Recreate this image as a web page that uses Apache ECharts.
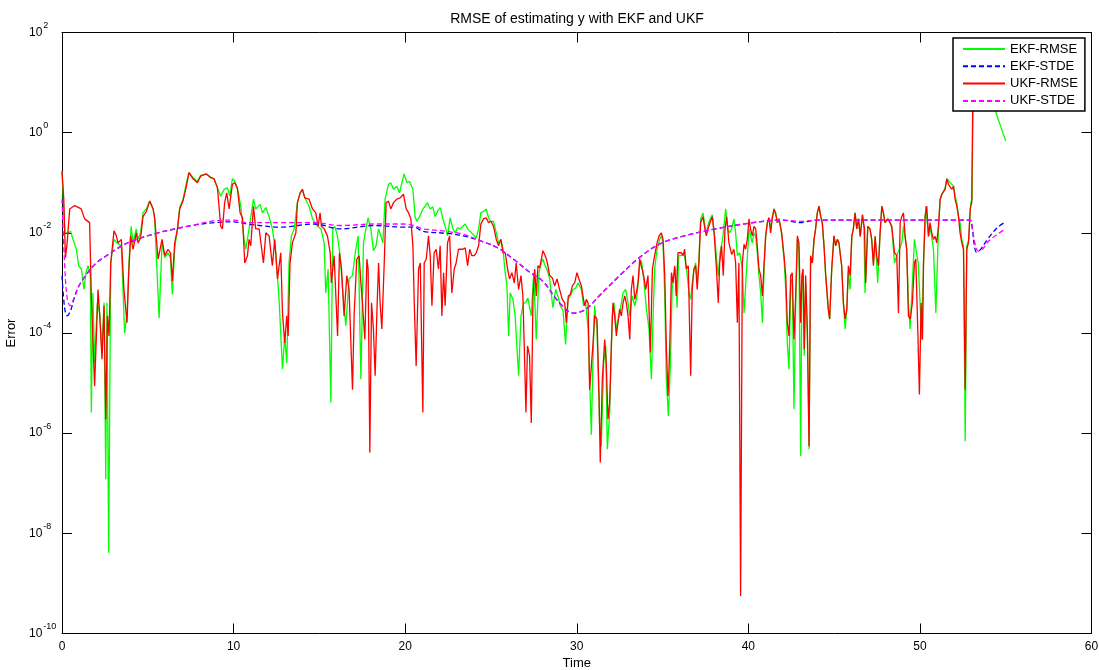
<!DOCTYPE html>
<html><head><meta charset="utf-8">
<script src="https://cdn.jsdelivr.net/npm/echarts@6/dist/echarts.min.js"></script>
<style>html,body{margin:0;padding:0;background:#fff}#chart{width:1099px;height:670px}</style>
</head><body><div id="chart"></div>
<script>
const seriesNames = ['EKF-RMSE', 'EKF-STDE', 'UKF-RMSE', 'UKF-STDE'];
const titleText = 'RMSE of estimating y with EKF and UKF';
const xName = 'Time';
const yName = 'Error';
const xMin = 0, xMax = 60, xStep = 10;
const yMin = 1e-10, yMax = 1e2, yStepDecades = 2;

const ekfRmse = [[0,1.7e-1],[0.1,3.2e-2],[0.17,1.0e-2],[0.35,1.0e-2],[0.5,1.07e-2],[0.64,7.4e-3],[0.84,4.7e-3],[0.97,2.2e-3],[1.13,1.9e-3],[1.28,7.4e-4],[1.4,1.6e-3],[1.52,2.2e-3],[1.65,1.4e-3],[1.71,2.6e-6],[1.8,6.3e-4],[1.9,2.5e-5],[2.06,4.0e-4],[2.2,2.5e-4],[2.33,4.0e-5],[2.45,4.0e-4],[2.55,1.2e-7],[2.62,4.0e-4],[2.72,4.1e-9],[2.84,2.5e-3],[3.03,7.4e-3],[3.2,6.3e-3],[3.46,5.5e-3],[3.65,1.0e-4],[3.79,2.5e-4],[3.9,2.5e-3],[4.03,1.35e-2],[4.14,6.3e-3],[4.33,1.2e-2],[4.43,7.4e-3],[4.58,1.0e-2],[4.72,2.5e-2],[4.92,3.0e-2],[5.11,4.3e-2],[5.31,3.0e-2],[5.4,1.9e-2],[5.66,2.0e-4],[5.83,6.3e-3],[5.99,3.2e-3],[6.18,4.0e-3],[6.32,3.2e-3],[6.43,5.9e-4],[6.57,5.0e-3],[6.73,1.2e-2],[6.86,3.2e-2],[7.05,4.7e-2],[7.25,1.0e-1],[7.4,1.6e-1],[7.64,1.26e-1],[7.89,1.07e-1],[8.08,1.4e-1],[8.41,1.5e-1],[8.67,1.3e-1],[8.86,1.2e-1],[9.06,7.9e-2],[9.25,5.4e-2],[9.45,7.4e-2],[9.64,7.9e-2],[9.78,5.4e-2],[9.93,1.2e-1],[10.07,1.07e-1],[10.26,6.8e-2],[10.42,3.4e-2],[10.61,7.4e-3],[10.71,4.7e-3],[10.9,1.2e-2],[11.16,4.7e-2],[11.29,3.0e-2],[11.55,3.7e-2],[11.68,2.5e-2],[11.88,3.2e-2],[12.07,2.1e-2],[12.26,1.2e-2],[12.46,4.0e-3],[12.65,4.7e-4],[12.85,1.9e-5],[12.98,8.7e-5],[13.1,2.5e-5],[13.23,2.5e-3],[13.37,8.7e-3],[13.53,1.2e-2],[13.72,4.0e-2],[13.88,6.3e-2],[14.01,7.4e-2],[14.15,5.0e-2],[14.4,3.4e-2],[14.6,1.9e-2],[14.89,1.35e-2],[15.09,1.2e-2],[15.28,6.3e-3],[15.37,6.3e-4],[15.51,1.9e-3],[15.67,4.1e-6],[15.78,1.2e-2],[15.9,1.35e-2],[16.05,8.7e-3],[16.21,3.5e-3],[16.35,7.4e-4],[16.54,1.4e-4],[16.73,1.2e-3],[16.93,1.4e-3],[17.12,4.7e-3],[17.26,8.7e-3],[17.42,1.2e-5],[17.57,6.3e-3],[17.71,1.2e-2],[17.84,2.0e-2],[18.0,1.2e-2],[18.15,4.4e-3],[18.3,5.5e-3],[18.45,1.2e-2],[18.58,8.7e-3],[18.7,6.3e-3],[18.83,4.7e-2],[19.03,9.3e-2],[19.16,1.0e-1],[19.32,7.4e-2],[19.51,8.5e-2],[19.67,6.3e-2],[19.81,1.0e-1],[19.94,1.5e-1],[20.1,1.0e-1],[20.25,1.07e-1],[20.45,7.4e-2],[20.58,2.1e-2],[20.68,1.7e-2],[20.84,2.1e-2],[21.03,3.0e-2],[21.17,3.4e-2],[21.3,4.0e-2],[21.46,3.0e-2],[21.61,3.3e-2],[21.75,2.1e-2],[21.89,2.7e-2],[22.04,3.2e-2],[22.2,1.9e-2],[22.33,1.35e-2],[22.47,8.7e-3],[22.62,2.0e-2],[22.78,1.2e-2],[22.92,1.0e-2],[23.05,1.26e-2],[23.2,1.2e-2],[23.36,1.35e-2],[23.5,1.5e-2],[23.64,1.2e-2],[23.79,1.07e-2],[23.95,9.3e-3],[24.14,7.9e-3],[24.28,1.2e-2],[24.41,2.5e-2],[24.57,2.7e-2],[24.72,3.0e-2],[24.86,2.0e-2],[24.96,1.7e-2],[25.15,1.7e-2],[25.31,1.0e-2],[25.44,6.3e-3],[25.58,7.4e-3],[25.7,4.7e-3],[25.83,1.6e-3],[25.93,8.7e-4],[26.03,8.7e-5],[26.12,6.3e-4],[26.28,4.7e-4],[26.41,2.2e-4],[26.51,5.5e-5],[26.61,1.4e-5],[26.75,2.2e-4],[26.9,4.0e-4],[27.02,4.0e-4],[27.15,5.0e-4],[27.35,2.2e-4],[27.49,1.6e-3],[27.64,7.4e-5],[27.8,1.6e-3],[27.93,2.5e-3],[28.03,3.0e-3],[28.13,2.3e-3],[28.26,1.9e-3],[28.42,1.2e-3],[28.61,3.2e-4],[28.77,7.4e-4],[28.9,5.5e-4],[29.04,3.5e-4],[29.2,2.8e-4],[29.35,5.9e-5],[29.49,4.7e-4],[29.63,5.5e-4],[29.78,7.4e-4],[29.94,7.9e-4],[30.07,1.0e-3],[30.27,7.4e-4],[30.4,3.5e-4],[30.52,4.0e-4],[30.66,1.2e-4],[30.85,9.3e-7],[30.95,3.5e-5],[31.04,3.5e-4],[31.18,1.2e-4],[31.34,1.2e-6],[31.43,5.5e-7],[31.57,2.5e-5],[31.69,5.5e-5],[31.78,4.8e-7],[31.92,2.6e-6],[32.07,2.2e-4],[32.17,4.0e-4],[32.31,1.2e-4],[32.5,2.5e-4],[32.7,6.3e-4],[32.85,7.4e-4],[32.99,4.0e-4],[33.09,2.2e-4],[33.24,5.5e-4],[33.38,3.5e-4],[33.51,5.5e-4],[33.67,2.2e-3],[33.77,2.8e-3],[33.9,1.2e-3],[34.06,3.0e-4],[34.21,1.2e-4],[34.35,1.2e-5],[34.45,2.2e-4],[34.54,1.9e-3],[34.68,4.7e-3],[34.83,7.4e-3],[34.93,8.7e-3],[35.03,6.3e-3],[35.13,5.5e-4],[35.22,1.2e-5],[35.34,2.2e-6],[35.46,2.5e-5],[35.56,7.4e-4],[35.65,1.4e-3],[35.75,1.9e-3],[35.85,3.2e-4],[35.94,3.5e-3],[36.1,3.5e-3],[36.24,4.0e-3],[36.38,2.2e-3],[36.54,6.3e-4],[36.64,4.7e-4],[36.73,1.0e-3],[36.83,1.9e-3],[36.93,2.5e-3],[37.02,1.0e-3],[37.12,3.0e-3],[37.22,1.9e-2],[37.36,2.5e-2],[37.47,1.35e-2],[37.55,1.0e-2],[37.67,1.5e-2],[37.8,2.0e-2],[37.9,2.3e-2],[38.02,1.0e-2],[38.13,3.5e-3],[38.25,1.4e-3],[38.35,4.0e-3],[38.5,7.4e-3],[38.6,1.6e-2],[38.68,3.0e-2],[38.8,1.2e-2],[38.9,1.0e-2],[39.03,1.2e-2],[39.16,1.9e-2],[39.26,1.0e-2],[39.36,3.5e-3],[39.5,4.0e-3],[39.65,1.9e-3],[39.75,2.5e-4],[39.9,1.9e-3],[40.04,1.2e-2],[40.13,1.2e-2],[40.23,6.3e-3],[40.33,1.0e-2],[40.43,8.7e-3],[40.52,4.0e-3],[40.62,1.4e-3],[40.72,6.3e-4],[40.82,1.6e-4],[40.92,1.9e-3],[41.01,8.7e-3],[41.11,1.6e-2],[41.2,2.0e-2],[41.3,1.2e-2],[41.4,2.1e-2],[41.5,3.0e-2],[41.6,2.5e-2],[41.69,1.6e-2],[41.79,1.9e-2],[41.94,1.0e-2],[42.08,3.0e-3],[42.18,7.4e-4],[42.27,6.3e-5],[42.37,1.9e-5],[42.47,1.0e-3],[42.56,1.2e-3],[42.66,3.0e-6],[42.76,4.0e-4],[42.86,7.4e-3],[42.95,4.7e-3],[43.05,3.5e-7],[43.12,1.0e-3],[43.19,1.4e-3],[43.26,3.5e-5],[43.34,1.0e-3],[43.44,8.7e-5],[43.54,4.8e-7],[43.63,3.0e-3],[43.73,2.5e-3],[43.83,7.4e-3],[43.92,1.2e-2],[44.02,2.5e-2],[44.12,3.4e-2],[44.22,2.1e-2],[44.31,1.6e-2],[44.41,5.5e-3],[44.51,1.4e-3],[44.66,3.0e-4],[44.74,1.9e-4],[44.86,1.9e-3],[44.99,8.7e-3],[45.09,5.5e-3],[45.19,7.4e-3],[45.28,6.3e-3],[45.44,2.2e-3],[45.54,4.0e-4],[45.64,1.2e-4],[45.74,3.0e-4],[45.83,1.6e-3],[45.93,7.4e-4],[46.03,8.5e-3],[46.12,1.2e-2],[46.22,2.5e-2],[46.32,1.2e-2],[46.42,1.9e-2],[46.52,8.5e-3],[46.65,2.3e-2],[46.74,1.2e-2],[46.8,6.3e-4],[46.96,1.35e-2],[47.09,1.2e-2],[47.19,7.4e-3],[47.29,2.5e-3],[47.39,8.5e-3],[47.54,1.0e-3],[47.68,1.0e-2],[47.78,3.4e-2],[47.87,2.5e-2],[47.97,1.6e-2],[48.13,1.9e-2],[48.26,1.6e-2],[48.36,1.26e-2],[48.52,2.5e-3],[48.65,3.5e-3],[48.75,3.2e-3],[48.94,6.3e-3],[49.04,1.35e-2],[49.14,7.9e-3],[49.23,4.7e-3],[49.33,4.0e-4],[49.43,1.2e-4],[49.56,1.0e-3],[49.68,7.4e-3],[49.8,4.0e-3],[49.9,2.5e-3],[50.11,7.4e-5],[50.21,2.5e-3],[50.34,3.4e-2],[50.5,8.5e-3],[50.59,1.35e-2],[50.79,4.7e-3],[50.93,2.5e-4],[51.08,1.2e-2],[51.18,4.7e-2],[51.28,5.9e-2],[51.37,6.3e-2],[51.47,7.9e-2],[51.57,1.2e-1],[51.66,1.26e-1],[51.76,1.0e-1],[51.86,1.07e-1],[51.96,8.5e-2],[52.05,5.4e-2],[52.15,4.0e-2],[52.25,2.1e-2],[52.34,1.6e-2],[52.44,7.4e-3],[52.54,5.4e-3],[52.64,6.9e-7],[52.73,5.4e-3],[52.85,7.4e-3],[52.96,4.0e-2],[53.04,4.7e-2],[53.12,40],[53.6,12.6],[54.0,6.3],[54.4,2.7],[54.7,1.35],[55.0,0.68]];

const ekfStde = [[0,1.4e-3],[0.15,3.2e-4],[0.3,2.2e-4],[0.5,2.8e-4],[0.75,5.5e-4],[1.0,8.9e-4],[1.5,1.6e-3],[2.0,2.5e-3],[2.7,3.7e-3],[3.65,5.9e-3],[4.6,7.9e-3],[5.6,1.0e-2],[6.6,1.2e-2],[7.55,1.4e-2],[8.9,1.6e-2],[10,1.66e-2],[10.8,1.5e-2],[12.75,1.3e-2],[14.7,1.5e-2],[16.25,1.2e-2],[18.2,1.4e-2],[19.9,1.3e-2],[20.5,1.3e-2],[21.05,1.07e-2],[22.4,9.8e-3],[23.4,8.7e-3],[24.4,6.9e-3],[25.35,5.1e-3],[26.3,3.0e-3],[27.3,1.6e-3],[28.0,1.1e-3],[29.0,4.0e-4],[29.8,2.5e-4],[30.55,3.0e-4],[31.3,5.5e-4],[32.5,1.4e-3],[33.65,3.2e-3],[34.8,5.9e-3],[36.15,8.5e-3],[38.1,1.2e-2],[40.0,1.55e-2],[42.0,1.8e-2],[43.0,1.6e-2],[44.0,1.8e-2],[46,1.8e-2],[48,1.8e-2],[50,1.8e-2],[52.9,1.8e-2],[53.05,1.26e-2],[53.15,6.3e-3],[53.3,4.1e-3],[53.5,4.5e-3],[54.0,7.9e-3],[54.5,1.26e-2],[55.0,1.66e-2]];

const ukfRmse = [[0,1.7e-1],[0.1,5.0e-2],[0.2,3.2e-3],[0.3,6.3e-3],[0.45,3.0e-2],[0.74,3.5e-2],[1.12,3.0e-2],[1.32,1.9e-2],[1.61,1.6e-2],[1.71,5.5e-4],[1.9,8.7e-6],[2.1,7.4e-4],[2.2,2.2e-4],[2.33,3.0e-5],[2.45,3.5e-4],[2.55,1.9e-6],[2.65,2.2e-4],[2.74,8.7e-5],[2.84,2.5e-3],[3.03,1.1e-2],[3.17,8.7e-3],[3.26,6.3e-3],[3.46,7.4e-3],[3.61,7.4e-4],[3.79,1.6e-4],[3.89,1.6e-3],[4.0,8.7e-3],[4.14,4.7e-3],[4.33,1.0e-2],[4.43,6.3e-3],[4.58,7.9e-3],[4.72,2.1e-2],[4.92,2.7e-2],[5.11,4.3e-2],[5.31,3.0e-2],[5.4,2.0e-2],[5.6,3.0e-3],[5.83,7.4e-3],[5.99,3.5e-3],[6.18,4.7e-3],[6.32,4.0e-3],[6.43,1.1e-3],[6.57,6.3e-3],[6.73,1.2e-2],[6.86,3.0e-2],[7.05,4.3e-2],[7.25,8.5e-2],[7.4,1.6e-1],[7.64,1.2e-1],[7.89,1.0e-1],[8.08,1.35e-1],[8.41,1.5e-1],[8.67,1.26e-1],[8.86,1.2e-1],[9.06,7.9e-2],[9.25,1.35e-2],[9.35,1.2e-2],[9.48,4.0e-2],[9.6,6.3e-2],[9.74,3.0e-2],[9.93,9.3e-2],[10.07,1.0e-1],[10.22,7.9e-2],[10.38,2.5e-2],[10.52,2.0e-2],[10.65,2.5e-3],[10.81,3.5e-3],[10.9,7.4e-3],[11.0,5.5e-3],[11.16,3.4e-2],[11.29,1.2e-2],[11.49,1.2e-2],[11.74,2.5e-3],[11.88,1.0e-2],[12.07,8.7e-3],[12.26,2.2e-3],[12.4,7.4e-3],[12.56,1.2e-3],[12.75,4.0e-3],[12.85,2.5e-4],[12.98,6.3e-5],[13.1,2.2e-4],[13.18,8.7e-5],[13.29,2.5e-3],[13.43,6.3e-3],[13.63,1.0e-2],[13.72,4.0e-2],[13.88,6.3e-2],[14.01,7.4e-2],[14.15,5.0e-2],[14.4,4.7e-2],[14.6,3.0e-2],[14.79,2.5e-2],[14.93,1.35e-2],[15.04,2.5e-2],[15.12,1.35e-2],[15.28,1.2e-2],[15.47,8.7e-3],[15.63,4.0e-3],[15.7,1.0e-3],[15.86,3.5e-3],[16.06,8.7e-5],[16.17,4.0e-3],[16.29,1.9e-3],[16.44,2.2e-4],[16.6,1.4e-3],[16.73,7.4e-4],[16.93,7.4e-6],[17.03,2.5e-4],[17.18,3.0e-3],[17.32,3.5e-3],[17.42,1.0e-3],[17.52,3.5e-4],[17.65,7.4e-5],[17.77,3.0e-3],[17.84,1.9e-3],[17.94,4.1e-7],[18.04,4.0e-4],[18.15,1.2e-4],[18.25,1.4e-5],[18.35,2.5e-4],[18.45,2.5e-3],[18.54,4.0e-4],[18.64,1.2e-4],[18.78,2.5e-3],[18.89,4.0e-2],[19.03,4.3e-2],[19.16,3.0e-2],[19.32,4.0e-2],[19.51,4.7e-2],[19.71,5.0e-2],[19.9,5.9e-2],[20.06,3.0e-2],[20.2,2.5e-2],[20.33,1.9e-2],[20.45,5.5e-3],[20.53,4.0e-4],[20.64,2.2e-5],[20.78,1.9e-3],[20.88,2.5e-3],[21.03,2.6e-6],[21.11,2.5e-3],[21.23,3.0e-3],[21.36,8.7e-3],[21.46,3.5e-3],[21.56,3.5e-4],[21.69,4.0e-3],[21.81,4.7e-3],[21.94,1.9e-3],[22.04,5.5e-3],[22.14,2.2e-4],[22.24,1.6e-3],[22.33,3.5e-4],[22.47,6.3e-3],[22.59,8.7e-3],[22.72,6.3e-4],[22.86,1.9e-3],[22.97,2.5e-3],[23.11,4.7e-3],[23.22,5.0e-3],[23.36,4.7e-3],[23.5,5.0e-3],[23.64,2.2e-3],[23.76,4.7e-3],[23.89,3.5e-3],[24.03,3.5e-3],[24.14,4.0e-3],[24.28,5.5e-3],[24.41,1.5e-2],[24.57,1.9e-2],[24.72,2.0e-2],[24.86,1.6e-2],[25.0,1.7e-2],[25.15,1.35e-2],[25.31,7.4e-3],[25.44,5.5e-3],[25.58,7.4e-3],[25.7,4.0e-3],[25.83,4.0e-3],[25.97,1.9e-3],[26.08,1.2e-3],[26.22,1.6e-3],[26.36,1.0e-3],[26.47,2.5e-3],[26.61,7.4e-4],[26.75,1.4e-3],[26.86,5.5e-4],[26.94,5.5e-5],[27.04,2.6e-6],[27.13,5.5e-5],[27.25,3.5e-5],[27.35,1.6e-6],[27.45,5.5e-4],[27.55,1.9e-3],[27.64,5.5e-4],[27.74,2.2e-3],[27.84,2.0e-3],[28.03,4.4e-3],[28.13,3.7e-3],[28.23,3.0e-3],[28.32,2.2e-3],[28.42,1.4e-3],[28.58,1.26e-3],[28.71,8.7e-4],[28.85,1.2e-3],[29.0,7.4e-4],[29.16,4.7e-4],[29.3,4.0e-4],[29.39,1.6e-4],[29.51,5.5e-4],[29.63,5.9e-4],[29.74,8.7e-4],[29.88,1.0e-3],[30.01,1.6e-3],[30.13,1.2e-3],[30.27,8.7e-4],[30.36,5.5e-4],[30.46,3.5e-4],[30.56,4.7e-4],[30.66,4.0e-4],[30.75,7.4e-6],[30.85,7.4e-6],[30.95,6.3e-5],[31.04,2.2e-4],[31.18,1.9e-4],[31.3,5.5e-6],[31.37,2.6e-7],[31.49,1.2e-5],[31.63,7.4e-5],[31.72,2.5e-5],[31.82,1.9e-6],[31.92,4.1e-6],[32.02,6.3e-5],[32.11,4.0e-4],[32.21,2.2e-4],[32.31,8.7e-5],[32.4,1.6e-4],[32.5,3.0e-4],[32.6,2.2e-4],[32.7,4.0e-4],[32.8,5.5e-4],[32.89,4.0e-4],[32.99,2.2e-4],[33.09,7.4e-5],[33.18,7.4e-4],[33.28,1.4e-3],[33.38,4.7e-4],[33.47,6.3e-4],[33.57,1.0e-3],[33.67,3.0e-3],[33.77,3.2e-3],[33.9,1.4e-3],[34.02,7.4e-4],[34.15,1.4e-3],[34.29,4.1e-5],[34.41,1.9e-3],[34.54,3.5e-3],[34.68,6.3e-3],[34.8,8.7e-3],[34.93,1.0e-2],[35.03,7.4e-3],[35.13,1.4e-3],[35.22,5.5e-5],[35.32,5.5e-6],[35.42,5.5e-5],[35.52,1.6e-3],[35.61,1.0e-3],[35.71,2.2e-3],[35.8,5.5e-4],[35.9,4.0e-3],[36.0,3.7e-3],[36.1,4.0e-3],[36.2,3.5e-3],[36.29,4.7e-3],[36.38,1.9e-3],[36.5,2.2e-3],[36.64,1.4e-5],[36.73,7.4e-4],[36.83,1.9e-3],[36.93,2.2e-3],[37.02,7.4e-4],[37.12,2.5e-3],[37.22,1.6e-2],[37.36,2.1e-2],[37.47,1.2e-2],[37.55,8.7e-3],[37.67,1.26e-2],[37.8,1.7e-2],[37.9,2.1e-2],[38.02,8.7e-3],[38.13,2.2e-3],[38.25,4.0e-4],[38.33,2.5e-3],[38.44,5.5e-3],[38.54,1.4e-3],[38.64,1.2e-2],[38.74,2.1e-2],[38.87,6.3e-3],[39.03,3.7e-3],[39.16,4.7e-3],[39.26,2.5e-3],[39.36,1.6e-4],[39.45,2.5e-3],[39.55,5.6e-10],[39.65,2.5e-3],[39.75,5.9e-3],[39.84,4.7e-3],[39.94,7.4e-3],[40.04,1.9e-2],[40.13,1.2e-2],[40.23,8.7e-3],[40.33,1.35e-2],[40.43,1.2e-2],[40.52,5.5e-3],[40.62,1.9e-3],[40.72,1.4e-3],[40.82,5.5e-4],[40.92,2.5e-3],[41.01,8.7e-3],[41.11,1.6e-2],[41.2,2.0e-2],[41.3,1.0e-2],[41.4,2.0e-2],[41.5,3.0e-2],[41.6,2.3e-2],[41.69,1.6e-2],[41.79,1.9e-2],[41.94,1.0e-2],[42.08,3.5e-3],[42.18,1.4e-3],[42.27,1.6e-4],[42.37,8.7e-5],[42.47,1.4e-3],[42.56,1.6e-3],[42.66,7.4e-5],[42.76,5.5e-4],[42.86,8.7e-3],[42.95,6.3e-3],[43.05,1.6e-4],[43.12,1.4e-3],[43.19,1.9e-3],[43.26,4.7e-5],[43.34,1.4e-3],[43.44,1.2e-4],[43.54,5.5e-7],[43.63,3.5e-3],[43.73,2.5e-3],[43.83,7.4e-3],[43.92,1.2e-2],[44.02,2.5e-2],[44.12,3.4e-2],[44.22,2.1e-2],[44.31,1.6e-2],[44.41,5.5e-3],[44.51,1.4e-3],[44.66,3.0e-4],[44.74,1.9e-4],[44.86,1.9e-3],[44.99,8.7e-3],[45.09,5.5e-3],[45.19,7.4e-3],[45.28,6.3e-3],[45.44,2.2e-3],[45.54,4.0e-4],[45.64,1.9e-4],[45.74,3.0e-4],[45.83,2.2e-3],[45.93,1.4e-3],[46.03,8.5e-3],[46.12,1.2e-2],[46.22,2.5e-2],[46.32,1.2e-2],[46.42,1.9e-2],[46.52,8.5e-3],[46.65,2.3e-2],[46.77,1.2e-2],[46.84,1.0e-3],[46.96,1.35e-2],[47.09,1.2e-2],[47.19,7.4e-3],[47.29,2.2e-3],[47.39,8.5e-3],[47.48,3.5e-3],[47.58,2.2e-3],[47.68,1.0e-2],[47.78,3.4e-2],[47.87,2.5e-2],[47.97,1.6e-2],[48.13,1.9e-2],[48.26,1.6e-2],[48.36,1.35e-2],[48.52,4.0e-3],[48.65,3.5e-3],[48.75,2.5e-4],[48.85,1.6e-2],[48.94,2.1e-2],[49.04,2.5e-2],[49.14,8.5e-3],[49.23,4.7e-3],[49.33,2.2e-4],[49.43,1.9e-4],[49.56,4.0e-4],[49.68,2.5e-3],[49.76,3.0e-3],[49.88,1.0e-4],[49.97,5.9e-6],[50.07,4.0e-4],[50.15,7.4e-5],[50.21,2.5e-3],[50.3,2.1e-2],[50.4,3.4e-2],[50.5,8.5e-3],[50.59,1.6e-2],[50.69,1.0e-2],[50.79,7.4e-3],[50.89,8.5e-3],[50.98,6.3e-3],[51.08,1.35e-2],[51.18,4.7e-2],[51.28,5.9e-2],[51.37,6.3e-2],[51.47,7.4e-2],[51.57,1.2e-1],[51.66,9.3e-2],[51.76,1.0e-1],[51.86,7.4e-2],[51.96,8.5e-2],[52.05,4.7e-2],[52.15,3.4e-2],[52.25,2.1e-2],[52.34,1.0e-2],[52.44,6.3e-3],[52.54,4.7e-3],[52.64,7.4e-6],[52.73,4.7e-3],[52.83,6.3e-3],[52.93,3.0e-2],[53.02,4.0e-2],[53.1,20],[54.0,18],[55.0,16]];

const ukfStde = [[0,4.7e-2],[0.15,2.5e-3],[0.3,5.0e-4],[0.47,3.5e-4],[0.75,5.5e-4],[1.0,8.9e-4],[1.5,1.6e-3],[2.0,2.5e-3],[2.7,3.7e-3],[3.65,5.9e-3],[4.6,7.9e-3],[5.6,1.0e-2],[6.6,1.2e-2],[7.55,1.4e-2],[8.9,1.74e-2],[10,1.8e-2],[10.8,1.6e-2],[12.75,1.6e-2],[14.7,1.6e-2],[16.25,1.4e-2],[18.2,1.5e-2],[19.9,1.5e-2],[20.5,1.4e-2],[21.05,1.2e-2],[22.4,1.07e-2],[23.4,9.3e-3],[24.4,6.9e-3],[25.35,5.1e-3],[26.3,3.0e-3],[27.3,1.6e-3],[28.0,1.1e-3],[29.0,4.0e-4],[29.8,2.5e-4],[30.55,3.0e-4],[31.3,5.5e-4],[32.5,1.4e-3],[33.65,3.2e-3],[34.8,5.9e-3],[36.15,8.5e-3],[38.1,1.2e-2],[40.0,1.55e-2],[42.0,1.8e-2],[43.0,1.7e-2],[44.0,1.8e-2],[46,1.8e-2],[48,1.8e-2],[50,1.8e-2],[52.9,1.8e-2],[53.05,1.26e-2],[53.2,6.3e-3],[53.4,4.3e-3],[53.6,4.5e-3],[54.0,6.8e-3],[54.5,9.3e-3],[55.0,1.2e-2]];

const seriesColors = ['#00ff00', '#0000ff', '#ff0000', '#ff00ff'];
const FONT = '"Liberation Sans", Arial, Helvetica, sans-serif';

const chart = echarts.init(document.getElementById('chart'), null, {renderer: 'canvas'});
const axisLine = {show: true, onZero: false, lineStyle: {color: '#000', width: 1}};
const tickIn = {show: true, inside: true, length: 10, lineStyle: {color: '#000', width: 1}};

function yLabel(v) {
  const p = Math.round(Math.log10(v));
  return '{b|10}{s|' + p + '}';
}

const dataSets = [ekfRmse, ekfStde, ukfRmse, ukfStde];
const dashed = [false, true, false, true];

chart.setOption({
  animation: false,
  backgroundColor: '#fff',
  title: {
    text: titleText, left: 577, top: 12, textAlign: 'center', padding: 0,
    textStyle: {fontFamily: FONT, fontSize: 14, fontWeight: 'normal', color: '#000'}
  },
  legend: {
    data: seriesNames, orient: 'vertical', left: 953, top: 38,
    padding: [4, 7, 3, 9], itemWidth: 42, itemHeight: 14, itemGap: 3.3,
    backgroundColor: '#fff', borderColor: '#000', borderWidth: 1.5,
    selectedMode: false,
    itemStyle: {opacity: 0},
    textStyle: {fontFamily: FONT, fontSize: 13, color: '#000', lineHeight: 14}
  },
  grid: {left: 62, right: 7.5, top: 32.5, bottom: 36.5, containLabel: false, outerBoundsMode: 'none'},
  xAxis: [{
    type: 'value', min: xMin, max: xMax, interval: xStep, position: 'bottom',
    name: xName, nameLocation: 'middle', nameGap: 22,
    nameTextStyle: {fontFamily: FONT, fontSize: 13, color: '#000'},
    axisLine, axisTick: tickIn, splitLine: {show: false},
    axisLabel: {fontFamily: FONT, fontSize: 12, color: '#000', margin: 7}
  }, {
    type: 'value', min: xMin, max: xMax, interval: xStep, position: 'top',
    axisLine, axisTick: tickIn, splitLine: {show: false}, axisLabel: {show: false}
  }],
  yAxis: [{
    type: 'log', logBase: 10, min: yMin, max: yMax, interval: yStepDecades, position: 'left',
    name: yName, nameLocation: 'middle', nameGap: 34, nameRotate: 90,
    nameTextStyle: {fontFamily: FONT, fontSize: 13, color: '#000'},
    axisLine, axisTick: tickIn, splitLine: {show: false}, minorTick: {show: false},
    axisLabel: {
      align: 'left', margin: 33, formatter: yLabel,
      rich: {
        b: {fontFamily: FONT, fontSize: 12, color: '#000', lineHeight: 14},
        s: {fontFamily: FONT, fontSize: 9, color: '#000', lineHeight: 10, padding: [0, 0, 14, 1]}
      }
    }
  }, {
    type: 'log', logBase: 10, min: yMin, max: yMax, interval: yStepDecades, position: 'right',
    axisLine, axisTick: tickIn, splitLine: {show: false}, axisLabel: {show: false}
  }],
  series: seriesNames.map((name, i) => ({
    name, type: 'line', data: dataSets[i], xAxisIndex: 0, yAxisIndex: 0,
    symbol: 'none', showSymbol: false, smooth: dashed[i] ? 0.35 : false,
    lineStyle: {color: seriesColors[i], width: 1.3, type: dashed[i] ? [5, 3] : 'solid'},
    itemStyle: {color: seriesColors[i]},
    emphasis: {disabled: true}
  }))
});
</script>
</body></html>
